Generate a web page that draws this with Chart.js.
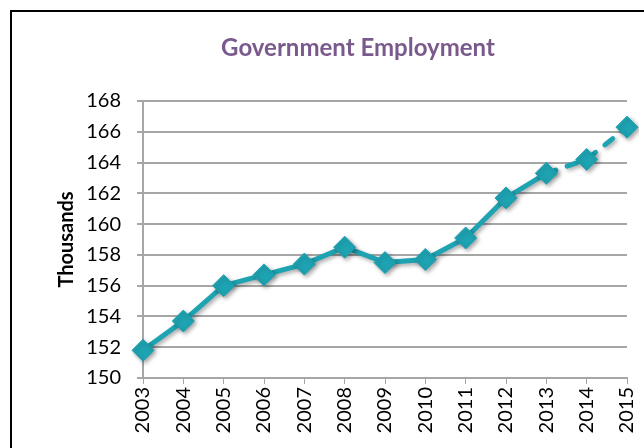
<!DOCTYPE html>
<html>
<head>
<meta charset="utf-8">
<script src="https://cdn.jsdelivr.net/npm/chart.js@4/dist/chart.umd.min.js"></script>
<style>
  html, body { margin: 0; padding: 0; background: #fff; }
  #wrap { width: 644px; height: 448px; }
</style>
</head>
<body>
<div id="wrap"><canvas id="employment_cntxt" width="644" height="448"></canvas></div>
<script>
var years = ["2003","2004","2005","2006","2007","2008","2009","2010","2011","2012","2013","2014","2015"];
var employment = [151.8, 153.7, 156.0, 156.7, 157.4, 158.5, 157.5, 157.7, 159.1, 161.7, 163.3, 164.2, 166.3];
// last two points are projections, drawn dashed
var firstProjected = 11;

var chartTitle = 'Government Employment';
var teal = '#1ea3b2';

// black frame round the chart (open on the right and bottom) plus the title
var framePlugin = {
    id: 'frame',
    beforeDraw: function(chart) {
        var c = chart.ctx;
        c.save();
        c.fillStyle = '#ffffff';
        c.fillRect(0, 0, chart.width, chart.height);
        c.strokeStyle = '#000000';
        c.lineWidth = 2;
        c.strokeRect(11, 11, 700, 500);
        c.fillStyle = '#7a5a8c';
        c.font = 'bold 24px Lato';
        c.textAlign = 'center';
        c.textBaseline = 'middle';
        c.fillText(chartTitle, 358, 48);
        c.restore();
    }
};

// soft drop shadow under the line and markers
var shadowPlugin = {
    id: 'shadow',
    beforeDatasetsDraw: function(chart) {
        var c = chart.ctx;
        c.save();
        c.shadowColor = 'rgba(0,0,0,0.35)';
        c.shadowBlur = 4;
        c.shadowOffsetX = 2;
        c.shadowOffsetY = 2;
    },
    afterDatasetsDraw: function(chart) {
        chart.ctx.restore();
    }
};

var current_cntxt = document.getElementById("employment_cntxt").getContext('2d');
var employment_chart = new Chart(current_cntxt, {
    type: 'line',
    data: {
        labels: years,
        datasets: [{
            data: employment,
            borderColor: teal,
            backgroundColor: teal,
            borderWidth: 5,
            tension: 0,
            pointStyle: 'rectRot',
            pointRadius: 11,
            pointHoverRadius: 11,
            pointBackgroundColor: teal,
            pointBorderColor: teal,
            pointBorderWidth: 1,
            borderCapStyle: 'round',
            segment: {
                borderDash: function(ctx) {
                    return ctx.p1DataIndex >= firstProjected ? [10, 12] : undefined;
                }
            }
        }]
    },
    options: {
        responsive: false,
        animation: false,
        layout: { padding: { left: 50, right: 17, top: 101, bottom: 0 } },
        plugins: {
            legend: { display: false },
            tooltip: { enabled: false },
            title: { display: false }
        },
        scales: {
            x: {
                offset: false,
                grid: { drawOnChartArea: false, drawTicks: true, tickLength: 6, color: '#a6a6a6' },
                border: { color: '#a6a6a6', width: 2 },
                ticks: {
                    color: '#000',
                    font: { family: 'Lato', size: 20 },
                    minRotation: 90,
                    maxRotation: 90,
                    padding: 3
                },
                afterFit: function(scale) {
                    scale.height = 70;
                    scale.paddingRight = 0;
                }
            },
            y: {
                min: 150,
                max: 168,
                grid: { color: '#a6a6a6', lineWidth: 2, tickLength: 6 },
                border: { color: '#a6a6a6', width: 2 },
                ticks: {
                    stepSize: 2,
                    color: '#000',
                    font: { family: 'Lato', size: 20 },
                    padding: 16
                },
                title: {
                    display: true,
                    text: 'Thousands',
                    color: '#000',
                    font: { family: 'Lato', size: 20, weight: 'bold' },
                    padding: { top: 5, bottom: 0 }
                },
                afterFit: function(scale) {
                    scale.width = 93;
                    scale.paddingTop = 0;
                }
            }
        }
    },
    plugins: [framePlugin, shadowPlugin]
});
</script>
</body>
</html>
